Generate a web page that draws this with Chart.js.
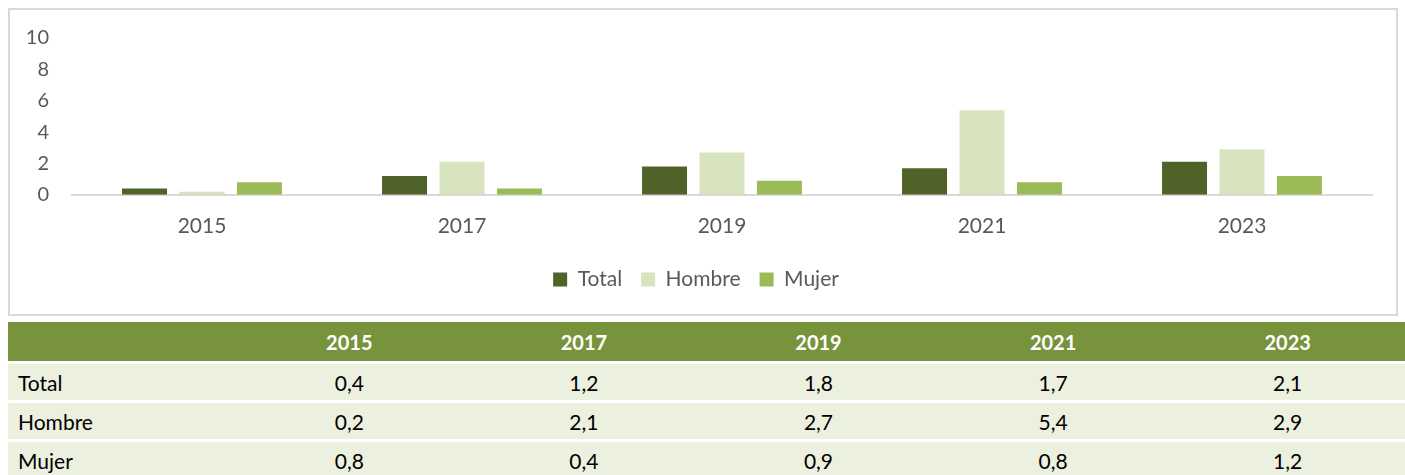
<!DOCTYPE html>
<html>
<head>
<meta charset="utf-8">
<script src="https://cdn.jsdelivr.net/npm/chart.js@4/dist/chart.umd.min.js"></script>
<style>
  body { margin: 0; background: #fff; font-family: Lato, "Open Sans", sans-serif; }
  .chart-box {
    position: absolute; left: 8px; top: 8px;
    width: 1386px; height: 304px;
    border: 2px solid #d9d9d9;
  }
  table {
    position: absolute; left: 8px; top: 322px;
    width: 1397px; border-collapse: collapse;
    font-size: 21px; color: #000;
  }
  th { background: #77933c; color: #fff; font-weight: bold; font-size: 20px; height: 37px; padding: 1px; text-align: center; }
  td { background: #ebf1de; height: 34px; padding: 1px; text-align: center; border-top: 3px solid #fff; }
  td.lbl { text-align: left; padding-left: 10px; }
</style>
</head>
<body>
<div class="chart-box"><canvas id="barChart" width="1386" height="304"></canvas></div>
<table id="dataTable"></table>
<script>
const years = ["2015", "2017", "2019", "2021", "2023"];
const total = [0.4, 1.2, 1.8, 1.7, 2.1];
const hombre = [0.2, 2.1, 2.7, 5.4, 2.9];
const mujer = [0.8, 0.4, 0.9, 0.8, 1.2];
const yTicks = [0, 2, 4, 6, 8, 10];

document.addEventListener("DOMContentLoaded", function () {
  drawBarChart();
  drawTable();

  function drawBarChart() {
    var ctx = document.getElementById("barChart").getContext("2d");
    var font = "Lato, 'Open Sans', sans-serif";
    new Chart(ctx, {
      type: "bar",
      data: {
        labels: years,
        datasets: [
          { label: "Total", data: total, backgroundColor: "#4f6228" },
          { label: "Hombre", data: hombre, backgroundColor: "#d7e4bd" },
          { label: "Mujer", data: mujer, backgroundColor: "#9bbb59" },
        ],
      },
      options: {
        responsive: false,
        animation: false,
        layout: { padding: { left: 10, right: 24, top: 28, bottom: 14 } },
        datasets: { bar: { categoryPercentage: 0.663, barPercentage: 0.783 } },
        plugins: {
          tooltip: { enabled: false },
          legend: {
            position: "bottom",
            labels: {
              boxWidth: 14, boxHeight: 14, padding: 19,
              color: "#595959",
              font: { family: font, size: 21 },
            },
          },
        },
        scales: {
          x: {
            grid: { display: false },
            border: { color: "#d9d9d9", width: 2 },
            ticks: { color: "#595959", padding: 11, font: { family: font, size: 21 } },
          },
          y: {
            min: 0, max: 10,
            afterBuildTicks: (s) => { s.ticks = yTicks.map((v) => ({ value: v })); },
            afterFit: (s) => { s.width = 52; },
            grid: { display: false },
            border: { display: false },
            ticks: { color: "#595959", padding: 15, font: { family: font, size: 20 } },
          },
        },
      },
    });
  }

  function drawTable() {
    const fmt = (v) => v.toFixed(1).replace(".", ",");
    const rows = [["Total", total], ["Hombre", hombre], ["Mujer", mujer]];
    let html = "<tr><th style='width:222px'></th>" + years.map((y) => "<th>" + y + "</th>").join("") + "</tr>";
    rows.forEach(([name, vals]) => {
      html += "<tr><td class='lbl'>" + name + "</td>" + vals.map((v) => "<td>" + fmt(v) + "</td>").join("") + "</tr>";
    });
    document.getElementById("dataTable").innerHTML = html;
  }
});
</script>
</body>
</html>
